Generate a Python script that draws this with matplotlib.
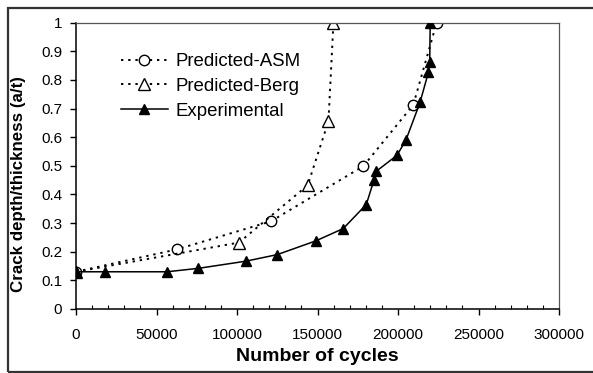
import matplotlib
matplotlib.use("Agg")
import matplotlib.pyplot as plt
from matplotlib.ticker import MultipleLocator, FormatStrFormatter
from matplotlib.patches import Rectangle

plt.rcParams['font.family'] = ['Liberation Sans', 'DejaVu Sans']

# crack growth data
asm_cycles = [0, 62500, 121000, 178500, 209500, 224000]
asm_depth = [0.13, 0.208, 0.306, 0.499, 0.713, 1.0]

berg_cycles = [0, 101200, 143900, 156800, 159900]
berg_depth = [0.13, 0.232, 0.432, 0.656, 1.0]

exp_cycles = [0, 18000, 56500, 76000, 105500, 125000, 149000, 166000, 180300,
              185000, 186500, 199400, 205000, 213700, 218900, 219700, 220000]
exp_depth = [0.13, 0.13, 0.13, 0.142, 0.167, 0.19, 0.238, 0.281, 0.365,
             0.449, 0.481, 0.537, 0.591, 0.722, 0.827, 0.862, 1.0]

fig = plt.figure(figsize=(5.93, 3.73), dpi=100)
ax = fig.add_axes([76 / 593, 1 - 309 / 373, 483 / 593, 286.3 / 373])

# outer frame of the figure
fig.add_artist(Rectangle((8 / 593, 1.5 / 373), 1.0, 364 / 373, transform=fig.transFigure,
                         fill=False, edgecolor='#333333', linewidth=1.6))

dots = (0, (1.2, 2.5))
ax.plot(asm_cycles, asm_depth, color='black', linestyle=dots, lw=1.4,
        marker='o', markersize=7.5, markerfacecolor='white', markeredgecolor='black',
        markeredgewidth=1.0, label='Predicted-ASM')
ax.plot(berg_cycles, berg_depth, color='black', linestyle=dots, lw=1.4,
        marker='^', markersize=8, markerfacecolor='white', markeredgecolor='black',
        markeredgewidth=1.0, label='Predicted-Berg')
ax.plot(exp_cycles, exp_depth, color='black', linestyle='-', lw=1.1,
        marker='^', markersize=6.5, markerfacecolor='black', markeredgecolor='black',
        label='Experimental', zorder=3)

ax.set_xlim(0, 300000)
ax.set_ylim(0, 1)
ax.xaxis.set_major_locator(MultipleLocator(50000))
ax.xaxis.set_minor_locator(MultipleLocator(10000))
ax.yaxis.set_major_locator(MultipleLocator(0.1))
ax.yaxis.set_major_formatter(FormatStrFormatter('%g'))

ax.tick_params(axis='x', which='major', direction='out', length=4, width=1, labelsize=11, pad=10)
ax.tick_params(axis='x', which='minor', direction='in', length=3, width=0.8)
ax.tick_params(axis='y', which='major', direction='out', length=4, width=1, labelsize=11, pad=6)

for side in ['left', 'bottom']:
    ax.spines[side].set_linewidth(1.1)
    ax.spines[side].set_color('black')
for side in ['top', 'right']:
    ax.spines[side].set_linewidth(0.9)
    ax.spines[side].set_color('#555555')

ax.set_xlabel('Number of cycles', fontsize=14, fontweight='bold')
ax.xaxis.set_label_coords(0.5, -0.136)
ax.set_ylabel('Crack depth/thickness (a/t)', fontsize=12.2, fontweight='bold')
ax.yaxis.set_label_coords(-0.1035, 0.437)

ax.legend(loc='upper left', bbox_to_anchor=(0.078, 0.92), frameon=False, fontsize=13.4,
          handlelength=2.5, handletextpad=0.4, labelspacing=0.42, borderaxespad=0)

plt.savefig('out.png', dpi=100)
